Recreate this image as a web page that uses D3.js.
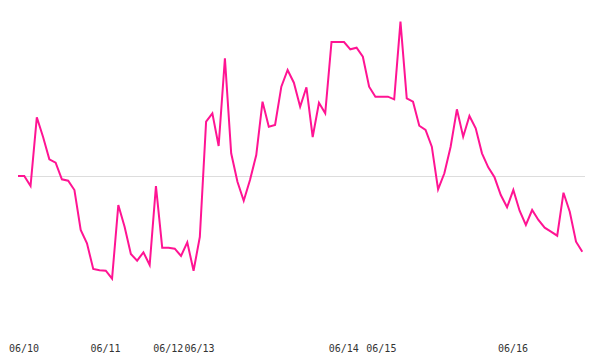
<!DOCTYPE html>
<html>
<head>
<meta charset="utf-8">
<script src="https://cdn.jsdelivr.net/npm/d3@7"></script>
<style>
  html, body { margin: 0; padding: 0; background: #fff; }
  svg { display: block; }
</style>
</head>
<body>
<svg id="chart" width="600" height="360"></svg>
<script>
// Series values (relative to the reference line at 0)
const values = [
  0, 0, -10, 58.7, 39, 16.7, 13.3, -3.3, -4.7, -14,
  -54, -67.3, -93, -94.3, -94.7, -102.7, -29, -50.7, -78, -84.7,
  -76.3, -89, -10, -71.7, -71.7, -72.7, -80, -66.3, -94.7, -61,
  54.3, 62.7, 30, 117.7, 22.7, -5.7, -24.7, -4, 21, 74.3,
  49.3, 51, 89.3, 106, 93.3, 69.3, 88.7, 39, 73.3, 62.7,
  134, 134, 134, 126.7, 128.3, 119.3, 89.3, 79.3, 79.3, 79.3,
  76.7, 154.3, 77.7, 74.3, 50.3, 46, 29.3, -13.3, 2.7, 29.3,
  66.7, 39.3, 60, 47.7, 22.7, 8.7, -1.3, -19, -31.3, -14,
  -34.7, -49, -34, -44, -51.7, -55.7, -59.7, -16.7, -35.7, -65.7,
  -75.7
];
// Tick labels and the index of the point where each date starts
const tickLabels = ["06/10", "06/11", "06/12", "06/13", "06/14", "06/15", "06/16"];
const tickIndex = [1, 14, 24, 29, 52, 58, 79];
const referenceValue = 0;

const svg = d3.select("#chart");
const x = d3.scaleLinear().domain([0, values.length - 1]).range([18, 582.3]);
const y = d3.scaleLinear().domain([-100, 176]).range([276, 0]);

// reference line
svg.append("line")
  .attr("x1", 18).attr("x2", 585)
  .attr("y1", y(referenceValue)).attr("y2", y(referenceValue))
  .attr("stroke", "#dddddd").attr("stroke-width", 1)
  .attr("shape-rendering", "crispEdges");

// line
const line = d3.line().x((d, i) => x(i)).y(d => y(d));
svg.append("path")
  .datum(values)
  .attr("d", line)
  .attr("fill", "none")
  .attr("stroke", "#ff1493")
  .attr("stroke-width", 2)
  .attr("stroke-linejoin", "miter");

// x axis labels
const xAxis = d3.axisBottom(x)
  .tickValues(tickIndex)
  .tickFormat((d, i) => tickLabels[i])
  .tickSize(0)
  .tickPadding(0);
const g = svg.append("g").attr("transform", "translate(-0.8,345)").call(xAxis);
g.select(".domain").remove();
g.selectAll("text")
  .attr("dy", "0.71em")
  .attr("fill", "#333")
  .style("font-family", "'DejaVu Sans Mono', monospace")
  .style("font-size", "10px");
</script>
</body>
</html>
